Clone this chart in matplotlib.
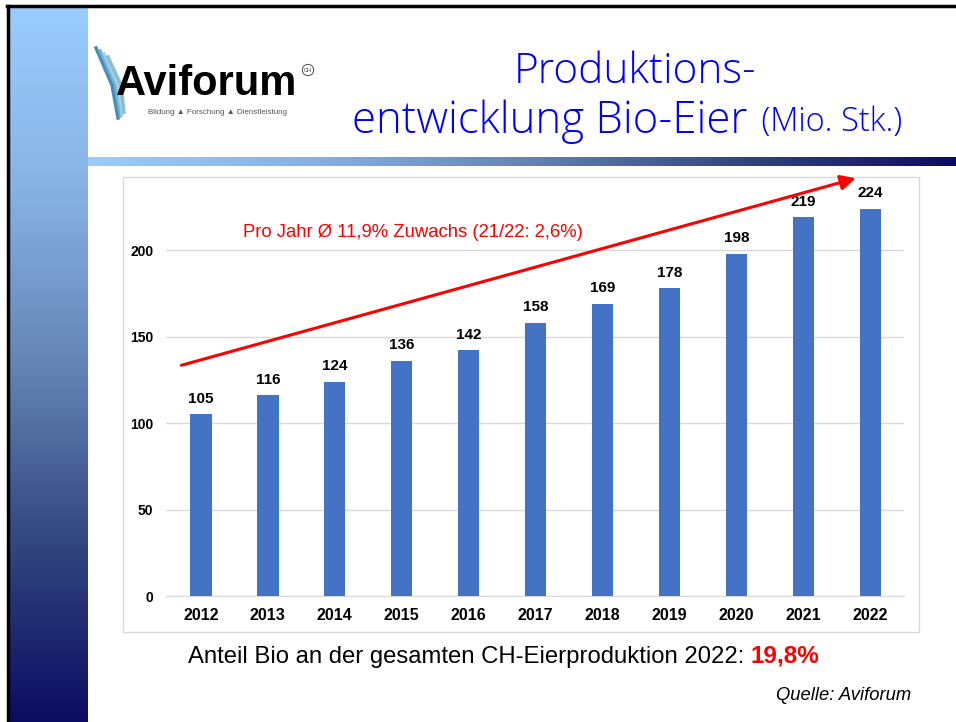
import numpy as np
import matplotlib.pyplot as plt
from matplotlib.colors import LinearSegmentedColormap
from matplotlib.patches import Rectangle, FancyArrowPatch

plt.rcParams['font.family'] = ['Liberation Sans', 'DejaVu Sans']

# data
years = ['2012', '2013', '2014', '2015', '2016', '2017', '2018', '2019', '2020', '2021', '2022']
eggs = [105, 116, 124, 136, 142, 158, 169, 178, 198, 219, 224]
yticks = [0, 50, 100, 150, 200]
trend_start = (-0.33, 133)
trend_end = (9.82, 242)

W, H = 956, 722
fig = plt.figure(figsize=(W / 100, H / 100), dpi=100)

def fx(px):
    return px / W

def fy(py):
    return 1 - py / H

# background decorations
bg = fig.add_axes([0, 0, 1, 1])
bg.set_xlim(0, W)
bg.set_ylim(H, 0)
bg.axis('off')
blues = LinearSegmentedColormap.from_list('bl', ['#9ACCFD', '#88B2E4', '#6585B5', '#33467F', '#0C0C62'])
grad = np.linspace(0, 1, 256)
bg.imshow(grad[:, None], cmap=blues, extent=[9, 88, 722, 7], aspect='auto')
bg.imshow(grad[None, :], cmap=blues, extent=[88, 956, 166, 157], aspect='auto')
bg.plot([7, 956], [6, 6], color='black', lw=2.5)
bg.plot([8, 8], [6, 722], color='black', lw=2.5)
bg.add_patch(Rectangle((123, 177), 796, 455, fill=False, ec='#D9D9D9', lw=1))

# logo
for i, c in enumerate(['#1B6FA8', '#4FA3C9', '#9CC6DB', '#6FB1CF']):
    bg.plot([96 + i * 4, 112 + i * 3, 118 + i * 2], [48 + i * 3, 85, 118 - i * 2], color=c, lw=2.5, alpha=0.8)
bg.text(116, 95, 'Aviforum', fontsize=30, fontweight='bold', color='black',
        va='baseline', ha='left', path_effects=[])
bg.text(308, 70, 'CH', fontsize=4, color='#333333', ha='center', va='center',
        bbox=dict(boxstyle='circle,pad=0.3', fc='white', ec='#333333', lw=0.6))
bg.text(148, 112, 'Bildung \u25b2 Forschung \u25b2 Dienstleistung', fontsize=5.8, color='#555555',
        va='center', ha='left')

# title
bg.text(635, 72, 'Produktions-', fontsize=30.5, color='#0000FF', ha='center', va='center',
        family='Open Sans', fontweight='light')
tl = bg.text(352, 122, 'entwicklung Bio-Eier', fontsize=31.5, color='#0000FF', ha='left', va='center',
             family='Open Sans', fontweight='light')
bg.annotate(' (Mio. Stk.)', xy=(1, 0), xycoords=tl, xytext=(4, 4), textcoords='offset points',
            fontsize=23.5, color='#0000FF', ha='left', va='bottom', family='Open Sans', fontweight='light')

# chart
ax = fig.add_axes([fx(166), fy(596), fx(738), fy(181) - fy(596)])
x = np.arange(len(years))
ax.bar(x, eggs, width=0.32, color='#4472C4', zorder=3)
for xi, v in zip(x, eggs):
    ax.text(xi, v + 5, str(v), ha='center', va='bottom', fontsize=11, fontweight='bold')
ax.set_xlim(-0.52, 10.5)
ax.set_ylim(0, 240)
ax.set_yticks(yticks)
ax.set_xticks(x, years)
ax.grid(axis='y', color='#D9D9D9', lw=1, zorder=0)
for s in ['top', 'right', 'left']:
    ax.spines[s].set_visible(False)
ax.spines['bottom'].set_color('#D9D9D9')
ax.tick_params(length=0)
ax.tick_params(axis='y', labelsize=10, pad=9)
ax.tick_params(axis='x', labelsize=11.5, pad=9)
for lab in ax.get_xticklabels() + ax.get_yticklabels():
    lab.set_fontweight('bold')

arrow = FancyArrowPatch(trend_start, trend_end, arrowstyle='-|>,head_length=6,head_width=3',
                        color='#FF0000', lw=2.2, mutation_scale=1.5, clip_on=False, zorder=5)
ax.add_patch(arrow)
ax.text(3.16, 210, 'Pro Jahr \u00d8 11,9% Zuwachs (21/22: 2,6%)', color='#FF0000', fontsize=13.3,
        ha='center', va='center')

# footer
t = bg.text(188, 663, 'Anteil Bio an der gesamten CH-Eierproduktion 2022: ', fontsize=17.2,
            color='black', ha='left', va='baseline')
bg.annotate('19,8%', xy=(1, 0), xycoords=t, fontsize=17.5, color='#FF0000', fontweight='bold',
            ha='left', va='bottom')
bg.text(911, 695, 'Quelle: Aviforum', fontsize=13.2, style='italic', color='black', ha='right', va='center')

fig.savefig('out.png', dpi=100)
